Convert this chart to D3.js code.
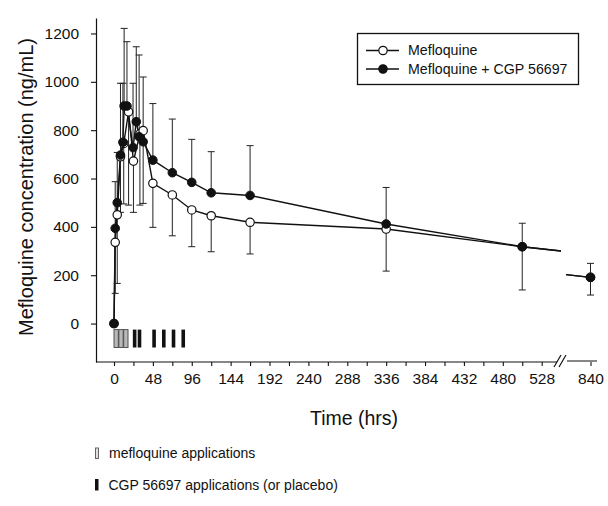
<!DOCTYPE html>
<html>
<head>
<meta charset="utf-8">
<script src="https://cdn.jsdelivr.net/npm/d3@7"></script>
<style>
  html, body { margin: 0; padding: 0; background: #fff; }
  svg { display: block; font-family: "Liberation Sans", Arial, Helvetica, sans-serif; }
</style>
</head>
<body>
<svg id="chart" width="608" height="506"></svg>
<script>
// ---------- data ----------
const seriesNames = ["Mefloquine", "Mefloquine + CGP 56697"];

// Mefloquine alone (open circles), error bars drawn downward
const openTimes  = [0, 1.5, 4, 8, 12, 18, 24, 32, 36, 48, 72, 96, 120, 168, 336, 504, 840];
const openValues = [0, 336, 450, 690, 745, 876, 672, 785, 798, 580, 532, 470, 446, 419, 391, 318, 191];
const openErr    = [0, 211, 284, 230, 250, 386, 212, 295, 301, 182, 169, 152, 149, 131, 174, 179, 73];

// Mefloquine + CGP 56697 (filled circles), error bars drawn upward
const fillTimes  = [0, 1.5, 4, 8, 11, 12.5, 16, 23.5, 27.5, 31, 36, 48, 72, 96, 120, 168, 336, 504, 840];
const fillValues = [0, 394, 500, 697, 750, 900, 900, 728, 835, 773, 752, 676, 624, 584, 541, 530, 412, 318, 191];
const fillErr    = [0, 193, 208, 297, 244, 321, 266, 266, 310, 338, 268, 234, 222, 178, 170, 206, 151, 97, 58];

// drug application times (hrs)
const mefloquineApplications = [0, 6, 12];
const cgpApplications = [24, 30, 48, 60, 72, 84];

// axis ticks
const yTicks = [0, 200, 400, 600, 800, 1000, 1200];
const xTicksMain = d3.range(0, 529, 24);
const xLabelStep = 48;
const xTicksTail = [840];

// ---------- layout ----------
const svg = d3.select("#chart");
const axisX0 = 96, axisY0 = 362, axisTop = 18;
const breakStart = 557, breakEnd = 567, axisRight = 597;

const y = d3.scaleLinear().domain([-159, 1264]).range([axisY0, axisTop]);
const xMain = d3.scaleLinear().domain([0, 528]).range([114, 114 + 0.81 * 528]);
const xTail = d3.scaleLinear().domain([0, 840]).range([590.5 - 0.81 * 840, 590.5]);
const xPos = t => (t > 600 ? xTail(t) : xMain(t));

const defs = svg.append("defs");
defs.append("clipPath").attr("id", "clipMain").append("rect")
  .attr("x", 0).attr("y", 0).attr("width", 561).attr("height", 506);
defs.append("clipPath").attr("id", "clipTail").append("rect")
  .attr("x", 566).attr("y", 0).attr("width", 60).attr("height", 506);

const ink = "#111";

// ---------- axes ----------
const yAxis = d3.axisLeft(y).tickValues(yTicks).tickSize(5).tickSizeOuter(0).tickPadding(12)
  .tickFormat(d3.format("d"));
const gy = svg.append("g").attr("transform", `translate(${axisX0},0)`).call(yAxis);
gy.select(".domain").attr("stroke", ink).attr("stroke-width", 1.2);
gy.selectAll(".tick line").attr("stroke", ink).attr("stroke-width", 1.1);
gy.selectAll(".tick text").attr("fill", ink).style("font-size", "15.5px")
  .style("font-family", "Liberation Sans, Arial, sans-serif");

const xAxisMain = d3.axisBottom(xMain).tickValues(xTicksMain).tickSize(4).tickPadding(7)
  .tickFormat(d => (d % xLabelStep === 0 ? d : ""));
const gx = svg.append("g").attr("transform", `translate(0,${axisY0})`).call(xAxisMain);
gx.select(".domain").remove();
const xAxisTail = d3.axisBottom(xTail).tickValues(xTicksTail).tickSize(4).tickPadding(7);
const gx2 = svg.append("g").attr("transform", `translate(0,${axisY0})`).call(xAxisTail);
gx2.select(".domain").remove();
[gx, gx2].forEach(g => {
  g.selectAll(".tick line").attr("stroke", ink).attr("stroke-width", 1.1);
  g.selectAll(".tick text").attr("fill", ink).style("font-size", "15.5px")
    .style("font-family", "Liberation Sans, Arial, sans-serif");
});

// x-axis line with break
svg.append("path")
  .attr("d", `M${axisX0},${axisY0}H${breakStart}M${breakEnd},${axisY0 - 1}H${axisRight}`)
  .attr("stroke", ink).attr("stroke-width", 1.2).attr("fill", "none");
svg.append("path")
  .attr("d", `M${breakStart - 3},${axisY0 + 5}L${breakStart + 4},${axisY0 - 7}M${breakStart + 2},${axisY0 + 5}L${breakStart + 9},${axisY0 - 7}`)
  .attr("stroke", ink).attr("stroke-width", 1.2).attr("fill", "none");

// axis titles
svg.append("text")
  .attr("transform", `translate(33,${187}) rotate(-90)`)
  .attr("text-anchor", "middle")
  .style("font-size", "20px").attr("fill", ink)
  .text("Mefloquine concentration (ng/mL)");
svg.append("text")
  .attr("x", 354).attr("y", 425)
  .attr("text-anchor", "middle")
  .style("font-size", "19.5px").attr("fill", ink)
  .text("Time (hrs)");

// ---------- series ----------
const openData = openTimes.map((t, i) => ({ t, v: openValues[i], e: openErr[i] }));
const fillData = fillTimes.map((t, i) => ({ t, v: fillValues[i], e: fillErr[i] }));

function drawLine(data) {
  const lm = d3.line().x(d => xMain(d.t)).y(d => y(d.v));
  const lt = d3.line().x(d => xTail(d.t)).y(d => y(d.v));
  svg.append("path").attr("d", lm(data)).attr("clip-path", "url(#clipMain)")
    .attr("fill", "none").attr("stroke", ink).attr("stroke-width", 1.4);
  svg.append("path").attr("d", lt(data)).attr("clip-path", "url(#clipTail)")
    .attr("fill", "none").attr("stroke", ink).attr("stroke-width", 1.4);
}

function drawErr(data, dir) {
  const g = svg.append("g").attr("stroke", "#222").attr("stroke-width", 1);
  data.filter(d => d.e > 0).forEach(d => {
    const x = xPos(d.t);
    const y1 = y(d.v), y2 = y(d.v + dir * d.e);
    g.append("line").attr("x1", x).attr("x2", x).attr("y1", y1).attr("y2", y2);
    g.append("line").attr("x1", x - 3.5).attr("x2", x + 3.5).attr("y1", y2).attr("y2", y2);
  });
}

drawLine(openData);
drawLine(fillData);
drawErr(fillData, 1);
drawErr(openData, -1);

svg.append("g").selectAll("circle").data(openData).join("circle")
  .attr("cx", d => xPos(d.t)).attr("cy", d => y(d.v)).attr("r", 4.2)
  .attr("fill", "#fff").attr("stroke", ink).attr("stroke-width", 1.2);
svg.append("g").selectAll("circle").data(fillData).join("circle")
  .attr("cx", d => xPos(d.t)).attr("cy", d => y(d.v)).attr("r", 4.3)
  .attr("fill", ink).attr("stroke", ink).attr("stroke-width", 1);

// ---------- application bars ----------
const barTop = y(-25), barBot = y(-99);
svg.append("g").selectAll("rect").data(mefloquineApplications).join("rect")
  .attr("x", d => xMain(d)).attr("y", barTop).attr("width", 4.3).attr("height", barBot - barTop)
  .attr("fill", "#b8b8b8").attr("stroke", "#444").attr("stroke-width", 0.9);
svg.append("g").selectAll("rect").data(cgpApplications).join("rect")
  .attr("x", d => xMain(d) - 0.6).attr("y", barTop).attr("width", 3.6).attr("height", barBot - barTop)
  .attr("fill", ink);

// ---------- legend ----------
const lg = svg.append("g");
lg.append("rect").attr("x", 357.5).attr("y", 33.5).attr("width", 221).attr("height", 51)
  .attr("fill", "#fff").attr("stroke", ink).attr("stroke-width", 1.3);
const rows = [{ name: seriesNames[0], filled: false, cy: 50.5 }, { name: seriesNames[1], filled: true, cy: 69 }];
rows.forEach(r => {
  lg.append("line").attr("x1", 366).attr("x2", 399).attr("y1", r.cy).attr("y2", r.cy)
    .attr("stroke", ink).attr("stroke-width", 1.4);
  lg.append("circle").attr("cx", 383).attr("cy", r.cy).attr("r", 4.2)
    .attr("fill", r.filled ? ink : "#fff").attr("stroke", ink).attr("stroke-width", 1.2);
  lg.append("text").attr("x", 408).attr("y", r.cy).attr("dy", "0.35em")
    .style("font-size", "14.2px").attr("fill", ink).text(r.name);
});

// bottom legend for applications
svg.append("rect").attr("x", 95.5).attr("y", 448).attr("width", 3).attr("height", 10.5)
  .attr("fill", "#e0e0e0").attr("stroke", "#555").attr("stroke-width", 0.9);
svg.append("text").attr("x", 109).attr("y", 453.5).attr("dy", "0.35em")
  .style("font-size", "14px").attr("fill", ink).text("mefloquine applications");
svg.append("rect").attr("x", 95).attr("y", 479).attr("width", 3.5).attr("height", 11.5)
  .attr("fill", ink);
svg.append("text").attr("x", 108.5).attr("y", 485).attr("dy", "0.35em")
  .style("font-size", "14px").attr("fill", ink).text("CGP 56697 applications (or placebo)");
</script>
</body>
</html>
